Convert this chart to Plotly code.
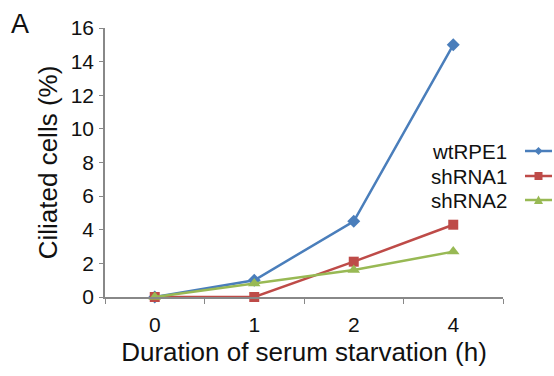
import plotly.graph_objects as go

categories = ["0", "1", "2", "4"]
wtRPE1 = [0, 1.0, 4.5, 15.0]
shRNA1 = [0, 0, 2.1, 4.3]
shRNA2 = [0, 0.8, 1.6, 2.7]
series_names = ["wtRPE1", "shRNA1", "shRNA2"]
y_ticks = [0, 2, 4, 6, 8, 10, 12, 14, 16]

colors = ["#4A7EBB", "#BE4B48", "#98B954"]
symbols = ["diamond", "square", "triangle-up"]
msizes = [10, 10, 11]
series = [wtRPE1, shRNA1, shRNA2]

fig = go.Figure()
for name, vals, c, s, ms in zip(series_names, series, colors, symbols, msizes):
    fig.add_trace(go.Scatter(x=categories, y=vals, name=name, mode="lines+markers",
                             line=dict(color=c, width=2.5),
                             marker=dict(symbol=s, size=ms, color=c),
                             cliponaxis=False, showlegend=False))

L, R, T, B = 105, 51, 28, 79
W, H = 554, 376
pw, ph = W - L - R, H - T - B

def px(x):
    return (x - L) / pw

def py(y):
    return (H - B - y) / ph

font = "Liberation Sans, Arial, sans-serif"
rows = [151, 176, 200]
shapes = []
annotations = []
for i, (name, c) in enumerate(zip(series_names, colors)):
    yy = rows[i]
    annotations.append(dict(x=px(509), y=py(yy), xref="paper", yref="paper", text=name,
                            showarrow=False, xanchor="right", yanchor="middle",
                            font=dict(size=20.5, color="#111", family=font)))
    shapes.append(dict(type="line", xref="paper", yref="paper", x0=px(525), x1=px(552),
                       y0=py(yy), y1=py(yy), line=dict(color=c, width=2.5)))
    cx = 538.5
    if i == 0:
        path = f"M {px(cx-4)} {py(yy)} L {px(cx)} {py(yy-4)} L {px(cx+4)} {py(yy)} L {px(cx)} {py(yy+4)} Z"
    elif i == 1:
        path = f"M {px(cx-4)} {py(yy-4)} L {px(cx+4)} {py(yy-4)} L {px(cx+4)} {py(yy+4)} L {px(cx-4)} {py(yy+4)} Z"
    else:
        path = f"M {px(cx-4.5)} {py(yy+4)} L {px(cx+4.5)} {py(yy+4)} L {px(cx)} {py(yy-4.5)} Z"
    shapes.append(dict(type="path", xref="paper", yref="paper", path=path,
                       fillcolor=c, line=dict(color=c, width=0)))

annotations.append(dict(x=px(9), y=py(24), xref="paper", yref="paper", text="A",
                        showarrow=False, xanchor="left", yanchor="middle",
                        font=dict(size=27, color="#111", family=font)))

fig.update_layout(
    width=W, height=H,
    margin=dict(l=L, r=R, t=T, b=B),
    paper_bgcolor="white", plot_bgcolor="white",
    font=dict(family=font, color="#111"),
    shapes=shapes, annotations=annotations,
    xaxis=dict(type="category", categoryorder="array", categoryarray=categories,
               range=[-0.5, 3.5], showgrid=False, showline=True, linecolor="#888",
               linewidth=1.5, ticks="outside", tickson="boundaries", ticklen=5,
               tickcolor="#888", tickfont=dict(size=21, color="#111"), ticklabelstandoff=8,
               title=dict(text="Duration of serum starvation (h)", font=dict(size=26, color="#111"),
                          standoff=8),
               zeroline=False),
    yaxis=dict(range=[0, 16], tickvals=y_ticks, showgrid=False, showline=True, linecolor="#888",
               linewidth=1.5, ticks="outside", ticklen=4, tickcolor="#888",
               tickfont=dict(size=21, color="#111"), ticklabelstandoff=1,
               title=dict(text="Ciliated cells (%)", font=dict(size=26, color="#111"), standoff=6),
               zeroline=False),
)

fig.write_html("out.html")
